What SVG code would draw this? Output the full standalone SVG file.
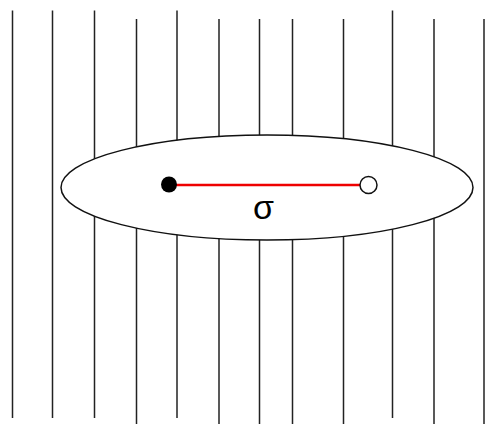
<svg xmlns="http://www.w3.org/2000/svg" width="495" height="430" viewBox="0 0 495 430">
<style>
.fl{stroke:#222;stroke-width:1.5;fill:none}
.el{fill:#fff;stroke:#111;stroke-width:1.5}
</style>
<rect width="495" height="430" fill="#fff"/>
<g id="field-lines">
<line class="fl" x1="12.5" y1="10.5" x2="12.5" y2="418"/>
<line class="fl" x1="52.5" y1="10.5" x2="52.5" y2="418"/>
<line class="fl" x1="94.5" y1="10.5" x2="94.5" y2="418"/>
<line class="fl" x1="136.5" y1="19" x2="136.5" y2="424"/>
<line class="fl" x1="177" y1="10.5" x2="177" y2="418"/>
<line class="fl" x1="219" y1="19" x2="219" y2="424"/>
<line class="fl" x1="259.5" y1="19" x2="259.5" y2="424"/>
<line class="fl" x1="292.5" y1="19" x2="292.5" y2="424"/>
<line class="fl" x1="343.5" y1="19" x2="343.5" y2="424"/>
<line class="fl" x1="392.5" y1="10.5" x2="392.5" y2="418"/>
<line class="fl" x1="434" y1="19" x2="434" y2="424"/>
<line class="fl" x1="484" y1="19" x2="484" y2="424"/>
</g>
<g id="ellipse">
<ellipse class="el" cx="267" cy="187.5" rx="206" ry="52.5"/>
</g>
<g id="connectors">
<line x1="169" y1="185" x2="360" y2="185" stroke="#e00" stroke-width="2.5"/>
</g>
<g id="charge-filled">
<circle cx="169" cy="184.5" r="8" fill="#000"/>
</g>
<g id="charge-open">
<circle cx="368.5" cy="185" r="8.5" fill="#fff" stroke="#111" stroke-width="1.5"/>
</g>
<text x="263.5" y="219" font-family="Liberation Sans, Arial, sans-serif" font-size="34" text-anchor="middle" fill="#000">σ</text>
</svg>
